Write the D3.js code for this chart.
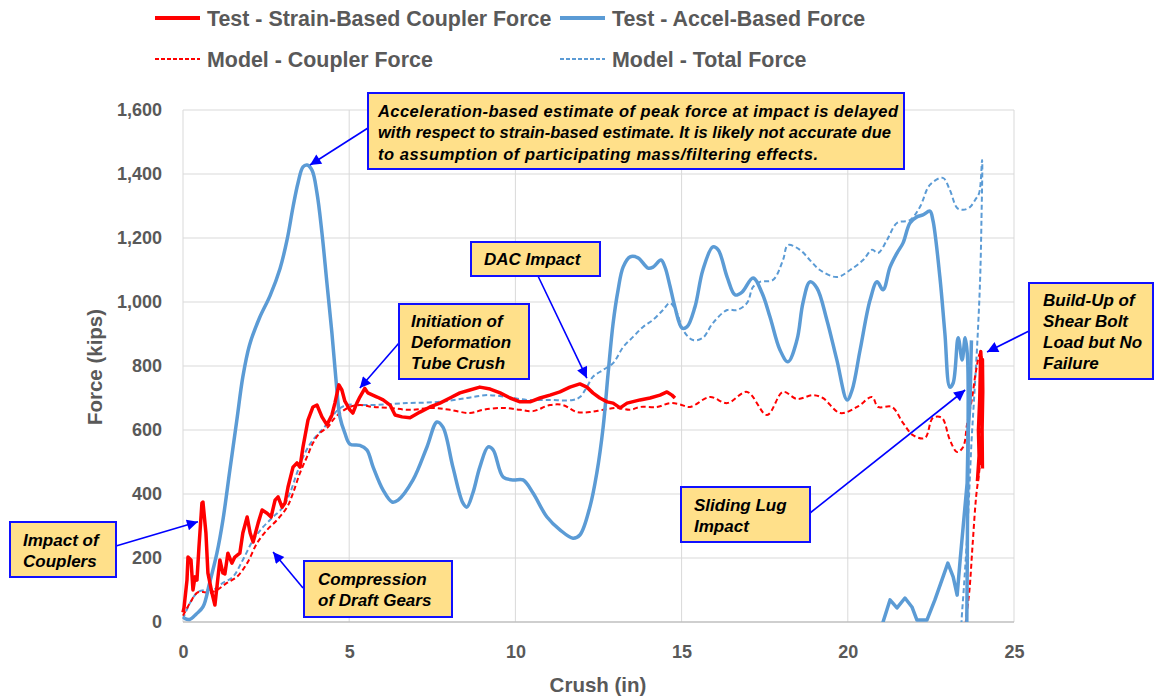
<!DOCTYPE html>
<html><head><meta charset="utf-8">
<script src="https://cdn.jsdelivr.net/npm/d3@7/dist/d3.min.js"></script>
<style>
html,body{margin:0;padding:0;background:#fff;}
svg text{font-family:"Liberation Sans",Arial,sans-serif;}
</style></head>
<body>
<svg id="chart" width="1155" height="698"></svg>
<script>
// ---------------- DATA ----------------
const xTicks = [0, 5, 10, 15, 20, 25];
const yTicks = [0, 200, 400, 600, 800, 1000, 1200, 1400, 1600];
const seriesNames = ["Test - Strain-Based Coupler Force", "Test - Accel-Based Force", "Model - Coupler Force", "Model - Total Force"];

const testStrain = [[0,30],[0.03,44],[0.12,131],[0.15,203],[0.24,194],[0.3,100],[0.36,141],[0.42,131],[0.48,234],[0.57,372],[0.6,375],[0.69,278],[0.75,153],[0.87,91],[0.96,53],[1.02,109],[1.11,194],[1.2,153],[1.26,150],[1.35,215],[1.47,184],[1.56,203],[1.71,215],[1.8,278],[1.93,328],[2.02,278],[2.11,250],[2.26,309],[2.38,350],[2.53,340],[2.65,328],[2.77,381],[2.86,391],[2.98,359],[3.07,372],[3.16,422],[3.31,484],[3.43,497],[3.52,484],[3.61,547],[3.76,631],[3.91,672],[4.03,678],[4.18,641],[4.33,616],[4.48,647],[4.57,684],[4.69,741],[4.78,725],[4.87,690],[5.02,663],[5.11,653],[5.23,684],[5.32,703],[5.47,730],[5.56,716],[5.84,703],[6.02,694],[6.23,678],[6.38,647],[6.59,641],[6.83,638],[7.13,656],[7.43,672],[7.73,684],[8.03,700],[8.33,716],[8.63,725],[8.93,734],[9.24,728],[9.54,716],[9.84,700],[10.14,688],[10.44,688],[10.74,700],[11.04,709],[11.34,719],[11.64,734],[11.94,744],[12.15,734],[12.33,716],[12.54,700],[12.76,688],[12.94,684],[13.15,669],[13.36,684],[13.75,694],[14.05,700],[14.35,709],[14.56,719],[14.71,709],[14.8,700]];
const testStrainEnd = [[23.9,440],[23.95,520],[23.93,600],[23.97,700],[23.99,800],[24.0,845],[24.03,780],[24.05,820],[24.06,720],[24.04,600],[24.05,480]];

const testAccel = [[0.03,12],[0.2,8],[0.4,25],[0.6,47],[0.8,122],[1.02,215],[1.2,318],[1.41,475],[1.62,631],[1.8,766],[2.0,865],[2.3,950],[2.62,1020],[2.92,1105],[3.13,1194],[3.31,1297],[3.46,1372],[3.61,1422],[3.73,1428],[3.88,1412],[4.03,1341],[4.18,1216],[4.33,1059],[4.48,903],[4.6,760],[4.72,641],[4.87,590],[5.02,556],[5.32,552],[5.53,538],[5.72,484],[6.02,412],[6.29,375],[6.47,381],[6.92,444],[7.34,547],[7.64,625],[7.82,609],[8.12,484],[8.42,372],[8.54,359],[8.72,403],[8.93,484],[9.18,547],[9.33,538],[9.63,453],[9.93,444],[10.23,444],[10.53,403],[10.95,328],[11.34,288],[11.73,262],[11.94,272],[12.24,359],[12.45,466],[12.64,609],[12.79,778],[12.94,934],[13.09,1038],[13.24,1109],[13.45,1141],[13.69,1138],[13.99,1106],[14.14,1109],[14.38,1131],[14.5,1109],[14.65,1050],[14.8,984],[15.01,919],[15.16,922],[15.4,984],[15.64,1100],[15.94,1172],[16.1,1163],[16.37,1078],[16.61,1022],[16.82,1031],[17.15,1075],[17.42,1028],[17.66,953],[17.96,850],[18.2,813],[18.47,881],[18.65,997],[18.86,1063],[19.07,1044],[19.37,944],[19.67,819],[19.98,694],[20.13,725],[20.37,850],[20.67,1006],[20.88,1063],[21.06,1038],[21.27,1109],[21.48,1153],[21.66,1184],[21.87,1247],[22.08,1266],[22.26,1272],[22.47,1284],[22.56,1256],[22.77,1078],[22.92,903],[23.07,734],[23.17,747],[23.32,888],[23.44,819],[23.53,888],[23.6,830],[23.62,600],[23.6,300],[23.58,0],[23.56,-60]];
const testAccelRebound = [[21.0,-40],[21.06,0],[21.27,69],[21.48,44],[21.72,75],[21.93,47],[22.08,6],[22.38,6],[22.62,69],[22.83,131],[23.01,184],[23.17,141],[23.29,84],[23.38,194],[23.47,297],[23.59,434],[23.62,591],[23.68,694],[23.7,800],[23.72,880]];

const modelCoupler = [[0,20],[0.21,59],[0.42,91],[0.6,94],[0.81,91],[1.02,100],[1.32,122],[1.62,141],[1.93,184],[2.23,247],[2.53,288],[2.83,319],[3.13,359],[3.31,403],[3.52,466],[3.73,516],[3.91,559],[4.12,591],[4.36,609],[4.51,631],[4.72,653],[5.02,672],[5.32,678],[5.72,672],[6.23,669],[6.83,663],[7.52,669],[8.03,663],[8.63,653],[9.03,663],[9.63,669],[10.14,663],[10.53,659],[11.04,678],[11.43,678],[11.85,656],[12.24,656],[12.64,663],[13.06,669],[13.45,663],[13.75,672],[14.26,672],[14.65,684],[14.95,680],[15.25,672],[15.85,703],[16.37,684],[16.97,719],[17.57,647],[18.05,719],[18.47,697],[18.95,709],[19.25,700],[19.77,653],[20.28,672],[20.73,703],[20.91,672],[21.33,672],[21.66,622],[21.96,584],[22.32,575],[22.56,638],[22.83,638],[23.07,569],[23.29,531],[23.47,547],[23.59,620],[23.74,700],[23.85,780],[23.98,841],[24.05,808],[24.02,700],[24.0,560],[23.98,497],[23.86,391],[23.76,250],[23.66,100],[23.55,0],[23.52,-60]];

const modelTotal = [[0,10],[0.21,59],[0.45,94],[0.72,100],[0.9,100],[1.2,122],[1.5,141],[1.8,194],[2.11,256],[2.41,297],[2.71,328],[3.01,359],[3.22,403],[3.43,466],[3.67,528],[3.91,569],[4.18,600],[4.42,631],[4.66,663],[4.93,678],[5.32,678],[5.72,678],[6.74,684],[7.73,688],[8.54,700],[9.15,709],[9.75,703],[10.35,694],[10.95,694],[11.73,694],[11.94,703],[12.15,734],[12.33,766],[12.64,788],[12.94,809],[13.24,859],[13.54,891],[13.84,922],[14.14,944],[14.44,975],[14.65,997],[14.86,966],[15.04,913],[15.34,881],[15.64,888],[15.94,934],[16.37,975],[16.67,975],[16.97,997],[17.15,1047],[17.36,1063],[17.75,1069],[18.05,1131],[18.2,1178],[18.56,1163],[18.86,1131],[19.16,1100],[19.67,1078],[20.07,1100],[20.46,1131],[20.73,1163],[20.91,1153],[21.18,1194],[21.48,1247],[21.87,1256],[22.17,1297],[22.47,1366],[22.86,1388],[23.07,1350],[23.29,1294],[23.47,1288],[23.68,1297],[23.83,1319],[23.95,1340],[24.04,1444],[24.02,1250],[23.98,1069],[23.9,881],[23.8,700],[23.72,560],[23.65,400],[23.58,250],[23.5,120],[23.42,0],[23.4,-60]];

// annotations: text lines + arrow target in data units
const annotations = [
  {lines:["Acceleration-based estimate of peak force at impact is delayed","with respect to strain-based estimate. It is likely not accurate due","to assumption of participating mass/filtering effects."], target:[3.82,1428]},
  {lines:["Initiation of","Deformation","Tube Crush"], target:[5.32,731]},
  {lines:["DAC Impact"], target:[12.15,762]},
  {lines:["Sliding Lug","Impact"], target:[23.53,725]},
  {lines:["Build-Up of","Shear Bolt","Load but No","Failure"], target:[24.19,844]},
  {lines:["Impact of","Couplers"], target:[0.45,313]},
  {lines:["Compression","of Draft Gears"], target:[2.71,219]}
];
// layout of annotation boxes (pixels): box, text origin, line height, font size, arrow start, fitted line widths
const annLayout = [
  {box:[368,93,536,76], tx:378, ty:111, lh:21.5, fs:16.5, from:[368,128], widths:[520,513,440]},
  {box:[399,304,130,75], tx:411, ty:321, lh:21, fs:17, from:[399,343]},
  {box:[471,242,129,34], tx:484, ty:259, lh:21, fs:17, from:[538,276]},
  {box:[681,487,129,55], tx:694, ty:505, lh:21, fs:17, from:[810,513]},
  {box:[1029,283,124,96], tx:1043, ty:300, lh:21, fs:17, from:[1029,331]},
  {box:[10,522,106,55], tx:23, ty:540, lh:21, fs:17, from:[116,546]},
  {box:[304,561,148,56], tx:318, ty:579, lh:21, fs:17, from:[303,588]}
];

// ---------------- CHART ----------------
const svg = d3.select("#chart");
const L = 183, R = 1014, T = 110, B = 622;
const x = d3.scaleLinear().domain([0,25]).range([L,R]);
const y = d3.scaleLinear().domain([0,1600]).range([B,T]);
const gray = "#595959";
const RED = "#FF0000", BLUE = "#5B9BD5";

// gridlines
svg.append("g").selectAll("line.h").data(yTicks.filter(d=>d>0)).join("line")
  .attr("x1",L).attr("x2",R).attr("y1",d=>y(d)).attr("y2",d=>y(d))
  .attr("stroke","#D9D9D9").attr("stroke-width",1);
svg.append("g").selectAll("line.v").data(xTicks).join("line")
  .attr("x1",d=>x(d)).attr("x2",d=>x(d)).attr("y1",T).attr("y2",B)
  .attr("stroke","#D9D9D9").attr("stroke-width",1);

// axes (labels only, via d3 axis)
const yAxis = svg.append("g").attr("transform",`translate(${L-18},0)`)
  .call(d3.axisLeft(y).tickValues(yTicks).tickFormat(d3.format(",")).tickSize(0));
yAxis.select(".domain").remove();
yAxis.selectAll("text").attr("fill",gray).attr("font-size",18).attr("font-weight","bold")
  .style("font-family","'Liberation Sans',Arial,sans-serif");

const xAxis = svg.append("g").attr("transform",`translate(0,${B+20})`)
  .call(d3.axisBottom(x).tickValues(xTicks).tickSize(0));
xAxis.select(".domain").remove();
xAxis.selectAll("text").attr("fill",gray).attr("font-size",18).attr("font-weight","bold")
  .style("font-family","'Liberation Sans',Arial,sans-serif");

svg.append("line").attr("x1",L).attr("x2",R).attr("y1",B).attr("y2",B)
  .attr("stroke","#BFBFBF").attr("stroke-width",1.3);

// axis titles
svg.append("text").attr("x",598).attr("y",692).attr("text-anchor","middle")
  .attr("font-size",20.5).attr("font-weight","bold").attr("fill",gray).text("Crush (in)");
svg.append("text").attr("transform","translate(102,367) rotate(-90)").attr("text-anchor","middle")
  .attr("font-size",20.5).attr("font-weight","bold").attr("fill",gray).text("Force (kips)");

// clip
svg.append("clipPath").attr("id","plotclip").append("rect")
  .attr("x",L-3).attr("y",T-10).attr("width",R-L+20).attr("height",B-T+10);
const plot = svg.append("g").attr("clip-path","url(#plotclip)");

const line = d3.line().x(d=>x(d[0])).y(d=>y(d[1])).curve(d3.curveCatmullRom.alpha(0.5));
const lineLin = d3.line().x(d=>x(d[0])).y(d=>y(d[1]));

plot.append("path").datum(modelTotal).attr("d",line).attr("fill","none")
  .attr("stroke",BLUE).attr("stroke-width",2).attr("stroke-dasharray","5,3");
plot.append("path").datum(modelCoupler).attr("d",line).attr("fill","none")
  .attr("stroke",RED).attr("stroke-width",2).attr("stroke-dasharray","5,3");
plot.append("path").datum(testAccel).attr("d",line).attr("fill","none")
  .attr("stroke",BLUE).attr("stroke-width",3.5).attr("stroke-linejoin","round");
plot.append("path").datum(testAccelRebound).attr("d",lineLin).attr("fill","none")
  .attr("stroke",BLUE).attr("stroke-width",3.5).attr("stroke-linejoin","round");
plot.append("path").datum(testStrain).attr("d",lineLin).attr("fill","none")
  .attr("stroke",RED).attr("stroke-width",3.5).attr("stroke-linejoin","round");
plot.append("path").datum(testStrainEnd).attr("d",lineLin).attr("fill","none")
  .attr("stroke",RED).attr("stroke-width",3.5).attr("stroke-linejoin","round");

// legend
const legend = [
  {name:seriesNames[0], color:RED, w:4, dash:null, lx:155, ly:18},
  {name:seriesNames[1], color:BLUE, w:4, dash:null, lx:560, ly:18},
  {name:seriesNames[2], color:RED, w:2, dash:"4,2", lx:155, ly:59},
  {name:seriesNames[3], color:BLUE, w:2, dash:"4,2", lx:560, ly:59}
];
const lg = svg.append("g").selectAll("g").data(legend).join("g");
lg.append("line").attr("x1",d=>d.lx).attr("x2",d=>d.lx+45).attr("y1",d=>d.ly).attr("y2",d=>d.ly)
  .attr("stroke",d=>d.color).attr("stroke-width",d=>d.w).attr("stroke-dasharray",d=>d.dash);
lg.append("text").attr("x",d=>d.lx+52).attr("y",d=>d.ly).attr("dy","0.36em")
  .attr("font-size",21.4).attr("font-weight","bold").attr("fill",gray).text(d=>d.name);

// arrowhead
svg.append("defs").append("marker").attr("id","arrow").attr("viewBox","0 0 10 10")
  .attr("refX",10).attr("refY",5).attr("markerWidth",14).attr("markerHeight",11)
  .attr("markerUnits","userSpaceOnUse").attr("orient","auto")
  .append("path").attr("d","M0,0 L10,5 L0,10 z").attr("fill","#0000FF");

// annotations
annotations.forEach((a,i)=>{
  const lay = annLayout[i];
  const g = svg.append("g");
  g.append("line").attr("x1",lay.from[0]).attr("y1",lay.from[1])
    .attr("x2",x(a.target[0])).attr("y2",y(a.target[1]))
    .attr("stroke","#0000FF").attr("stroke-width",1.6).attr("marker-end","url(#arrow)");
  g.append("rect").attr("x",lay.box[0]).attr("y",lay.box[1]).attr("width",lay.box[2]).attr("height",lay.box[3])
    .attr("fill","#FFE08A").attr("stroke","#1010FF").attr("stroke-width",2);
  a.lines.forEach((t,j)=>{
    const tt = g.append("text").attr("x",lay.tx).attr("y",lay.ty+j*lay.lh).attr("dy","0.36em")
      .attr("font-size",lay.fs).attr("font-weight","bold").attr("font-style","italic")
      .attr("fill","#000").text(t);
    if (lay.widths) tt.attr("textLength",lay.widths[j]).attr("lengthAdjust","spacing");
  });
});
</script>
</body></html>
